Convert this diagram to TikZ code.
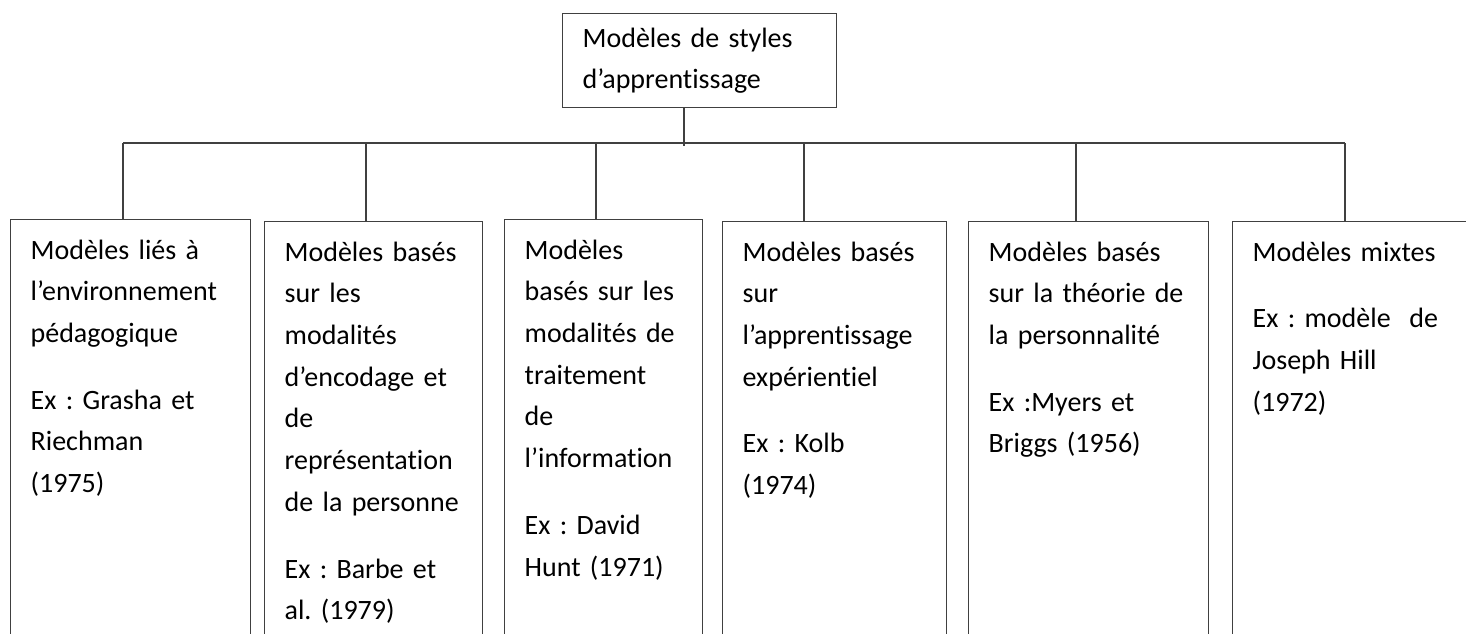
\documentclass[tikz,border=0pt]{standalone}
\usepackage{fontspec}
\setmainfont{Carlito}[Ligatures=NoCommon]
\frenchspacing
\definecolor{trait}{RGB}{64,64,64}

\begin{document}
\begin{tikzpicture}[
    x=1pt, y=-1pt,
    every node/.style={inner sep=0pt, font=\fontsize{28}{41.7}\selectfont},
    cadre/.style={rectangle, draw=trait, line width=1.3pt, anchor=north west,
        align=left, inner xsep=20pt, inner ysep=14pt},
    feuille/.style={cadre, inner ysep=20pt, text depth=420pt},
    lien/.style={draw=trait, line width=1.3pt}
    ]
\useasboundingbox (0,0) rectangle (1466,633);
\clip (0,0) rectangle (1466,633);

%Top box
\node[cadre, text width=234pt] (racine) at (562,13)
    {Modèles de styles\\d’apprentissage};

%Lower boxes
\node[feuille, text width=200pt] (m1) at (10,219)
    {Modèles liés à\\l’environnement\\pédagogique\\[25pt]Ex : Grasha et\\Riechman\\(1975)};
\node[feuille, text width=178pt] (m2) at (264,221)
    {Modèles basés\\sur les\\modalités\\d’encodage et\\de\\représentation\\de la personne\\[25pt]Ex : Barbe et\\al. (1979)};
\node[feuille, text width=158pt] (m3) at (504,219)
    {Modèles\\basés sur les\\modalités de\\traitement\\de\\l’information\\[25pt]Ex : David\\Hunt (1971)};
\node[feuille, text width=184pt] (m4) at (722,221)
    {Modèles basés\\sur\\l’apprentissage\\expérientiel\\[25pt]Ex : Kolb\\(1974)};
\node[feuille, text width=200pt] (m5) at (968,221)
    {Modèles basés\\sur la théorie de\\la personnalité\\[25pt]Ex :Myers et\\Briggs (1956)};
\node[feuille, text width=220pt] (m6) at (1232,221)
    {Modèles mixtes\\[25pt]Ex : modèle\ \ de\\Joseph Hill\\(1972)};

%Bus line
\coordinate (haut) at (684,146);
\coordinate (d1) at (123,143);
\coordinate (d2) at (366,143);
\coordinate (d3) at (596,143);
\coordinate (d4) at (804,143);
\coordinate (d5) at (1076,143);
\coordinate (d6) at (1345,143);

\draw[lien] (haut |- racine.south) -- (haut);
\draw[lien] (d1) -- (d6);
\foreach \i in {1,...,6}
    \draw[lien] (d\i) -- (d\i |- m\i.north);
\end{tikzpicture}
\end{document}
